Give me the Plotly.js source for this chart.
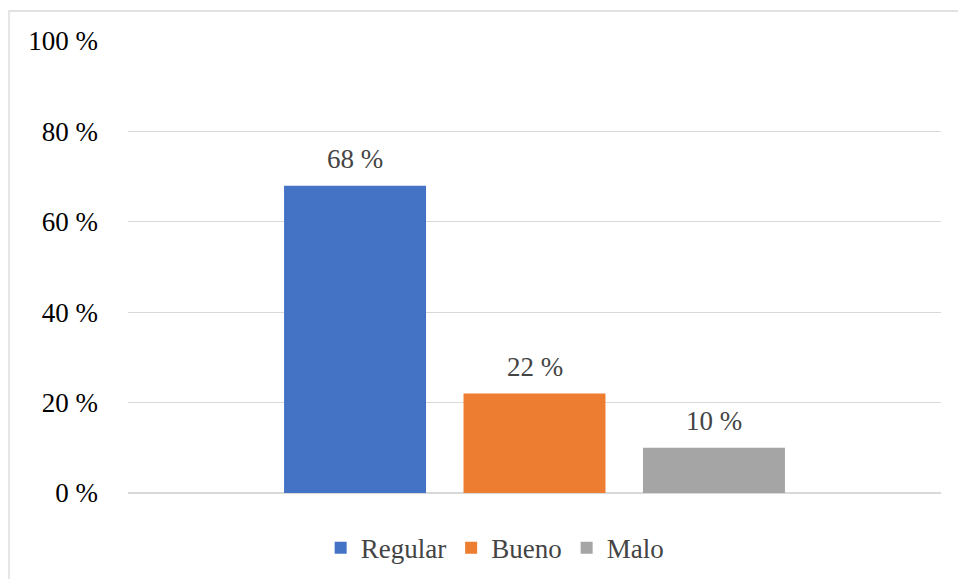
<!DOCTYPE html>
<html>
<head>
<meta charset="utf-8">
<script src="https://cdn.plot.ly/plotly-3.0.1.min.js"></script>
<style>
  html, body { margin: 0; padding: 0; background: #fff; }
</style>
</head>
<body>
<div id="chart" style="width:958px;height:579px"></div>
<script>
// Survey result shares, in percent
const categories = ['Regular', 'Bueno', 'Malo'];
const values = [68, 22, 10];
const colors = ['#4472C4', '#ED7D31', '#A5A5A5'];
const yTicks = [0, 20, 40, 60, 80, 100];

const serif = 'Liberation Serif';

// one trace per category so each gets its own legend entry
const barTraces = categories.map((name, i) => ({
  type: 'bar',
  name: name,
  x: [name],
  y: [values[i]],
  marker: { color: colors[i] }
}));

// value labels above each column
const valueLabels = categories.map((name, i) => ({
  x: name,
  y: values[i],
  text: values[i] + ' %',
  showarrow: false,
  yanchor: 'bottom',
  yshift: 10,
  font: { family: serif, size: 27 }
}));

Plotly.newPlot('chart', barTraces, {
  width: 958,
  height: 579,
  margin: { l: 128, r: 17, t: 41, b: 86, autoexpand: false },
  barmode: 'overlay',
  bargap: 0.209,
  showlegend: true,
  legend: {
    orientation: 'h',
    x: 0.451,
    xanchor: 'center',
    y: -0.122,
    yanchor: 'middle',
    font: { family: serif, size: 27 }
  },
  xaxis: {
    type: 'category',
    categoryorder: 'array',
    categoryarray: categories,
    range: [-1.265, 3.265],
    showticklabels: false,
    showgrid: false,
    zeroline: false
  },
  yaxis: {
    range: [0, 100],
    tickvals: yTicks,
    ticktext: yTicks.map(v => v + ' %'),
    gridcolor: '#d9d9d9',
    gridwidth: 1.3,
    zerolinecolor: '#d9d9d9',
    zerolinewidth: 1.3,
    ticklabelstandoff: 29,
    tickfont: { family: serif, size: 27, color: '#000' }
  },
  annotations: valueLabels,
  shapes: [{
    type: 'rect',
    xref: 'paper',
    yref: 'paper',
    x0: -0.1464,
    x1: 1.2,
    y0: -0.3,
    y1: 1.0664,
    line: { color: '#d9d9d9', width: 1.3 },
    layer: 'below'
  }]
}, { staticPlot: true });
</script>
</body>
</html>
